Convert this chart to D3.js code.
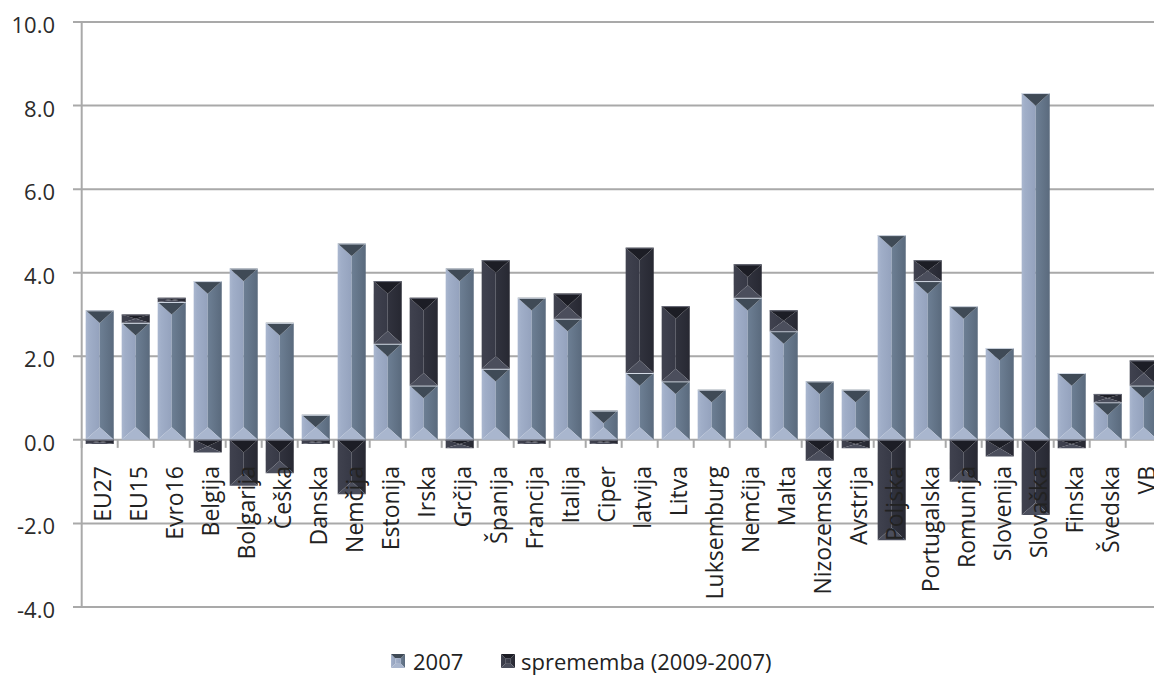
<!DOCTYPE html>
<html>
<head>
<meta charset="utf-8">
<script src="https://cdn.jsdelivr.net/npm/d3@7"></script>
<style>
  html, body { margin: 0; padding: 0; background: #fff; }
  svg { display: block; font-family: "Open Sans", "Noto Sans", sans-serif; }
</style>
</head>
<body>
<svg id="chart" width="1154" height="675"></svg>
<script>
// Countries / aggregates along the x axis
const categories = ["EU27", "EU15", "Evro16", "Belgija", "Bolgarija", "Češka", "Danska", "Nemčija",
  "Estonija", "Irska", "Grčija", "Španija", "Francija", "Italija", "Ciper", "latvija", "Litva",
  "Luksemburg", "Nemčija ", "Malta", "Nizozemska", "Avstrija", "Poljska", "Portugalska",
  "Romunija", "Slovenija", "Slovaška", "Finska", "Švedska", "VB"];

// Level in 2007
const values2007 = [3.1, 2.8, 3.3, 3.8, 4.1, 2.8, 0.6, 4.7, 2.3, 1.3, 4.1, 1.7, 3.4, 2.9, 0.7,
  1.6, 1.4, 1.2, 3.4, 2.6, 1.4, 1.2, 4.9, 3.8, 3.2, 2.2, 8.3, 1.6, 0.9, 1.3];

// Change 2009 - 2007
const valuesChange = [-0.1, 0.2, 0.1, -0.3, -1.1, -0.8, -0.1, -1.3, 1.5, 2.1, -0.2, 2.6, -0.1, 0.6,
  -0.1, 3.0, 1.8, 0.0, 0.8, 0.5, -0.5, -0.2, -2.4, 0.5, -1.0, -0.4, -1.8, -0.2, 0.2, 0.6];

const yTicks = [-4, -2, 0, 2, 4, 6, 8, 10];
const seriesNames = ["2007", "sprememba (2009-2007)"];

const svg = d3.select("#chart");
const plotLeft = 81.7, plotRight = 1161.7, plotTop = 22, plotBottom = 607;

const x = d3.scaleBand().domain(categories).range([plotLeft, plotRight])
  .paddingInner(0.22).paddingOuter(0.11);
const y = d3.scaleLinear().domain([-4, 10]).range([plotBottom, plotTop]);

// Gradients for the bevelled faces
const defs = svg.append("defs");
function grad(id, stops) {
  const g = defs.append("linearGradient").attr("id", id).attr("x1", 0).attr("x2", 1).attr("y1", 0).attr("y2", 0);
  stops.forEach(([o, c]) => g.append("stop").attr("offset", o).attr("stop-color", c));
}
grad("lightL", [[0, "#aab7cf"], [0.25, "#a0aec8"], [1, "#94a2bd"]]);
grad("lightR", [[0, "#6d7f94"], [1, "#5a6a7d"]]);
grad("darkL", [[0, "#40424f"], [1, "#373946"]]);
grad("darkR", [[0, "#31333e"], [1, "#272832"]]);

const palettes = {
  light: { top: "#3f4a56", left: "url(#lightL)", right: "url(#lightR)", bottom: "#a9b6ce", edge: "#d4dbe6" },
  dark:  { top: "#1c1d25", left: "url(#darkL)", right: "url(#darkR)", bottom: "#4b4e5c", edge: "#6a6d7a" }
};

// Gridlines and y axis
const grid = svg.append("g");
grid.selectAll("line.grid").data(yTicks).join("line")
  .attr("x1", 73).attr("x2", 1154)
  .attr("y1", d => y(d)).attr("y2", d => y(d))
  .attr("stroke", "#a9a9a9").attr("stroke-width", 2);
grid.append("line")
  .attr("x1", plotLeft).attr("x2", plotLeft).attr("y1", y(10)).attr("y2", y(-4))
  .attr("stroke", "#a9a9a9").attr("stroke-width", 2);

// Category tick marks along the zero line
const bounds = categories.map(c => x(c) - x.step() * x.paddingInner() / 2).concat([plotRight]);
grid.selectAll("line.xt").data(bounds).join("line")
  .attr("x1", d => d).attr("x2", d => d)
  .attr("y1", y(0)).attr("y2", y(0) + 8)
  .attr("stroke", "#a9a9a9").attr("stroke-width", 2);

// Y tick labels
svg.append("g").selectAll("text").data(yTicks).join("text")
  .attr("x", 55).attr("y", d => y(d) + 11)
  .attr("text-anchor", "end").attr("font-size", 22).attr("fill", "#2b2b2b")
  .text(d => d.toFixed(1));

// Bevelled bar segment
function bevelBar(g, x0, w, v0, v1, pal) {
  const yT = Math.min(y(v0), y(v1)), yB = Math.max(y(v0), y(v1));
  const h = yB - yT;
  if (h <= 0) return;
  const x1 = x0 + w, xc = x0 + w / 2;
  const d = Math.min(w * 0.45, h / 2);
  const poly = pts => pts.map(p => p.join(",")).join(" ");
  g.append("polygon").attr("points", poly([[x0, yT], [xc, yT + d], [xc, yB - d], [x0, yB]])).attr("fill", pal.left);
  g.append("polygon").attr("points", poly([[x1, yT], [xc, yT + d], [xc, yB - d], [x1, yB]])).attr("fill", pal.right);
  g.append("polygon").attr("points", poly([[x0, yB], [x1, yB], [xc, yB - d]])).attr("fill", pal.bottom);
  g.append("polygon").attr("points", poly([[x0, yT], [x1, yT], [xc, yT + d]])).attr("fill", pal.top);
  g.append("line").attr("x1", x0).attr("x2", x1).attr("y1", yT + 0.5).attr("y2", yT + 0.5)
    .attr("stroke", pal.edge).attr("stroke-width", 1);
}

const bars = svg.append("g");
categories.forEach((c, i) => {
  const g = bars.append("g");
  const x0 = x(c), w = x.bandwidth();
  const base = values2007[i], ch = valuesChange[i];
  bevelBar(g, x0, w, 0, base, palettes.light);
  if (ch > 0) bevelBar(g, x0, w, base, base + ch, palettes.dark);
  else if (ch < 0) bevelBar(g, x0, w, 0, ch, palettes.dark);
});

// Category labels, rotated
svg.append("g").selectAll("text").data(categories).join("text")
  .attr("transform", c => `translate(${x(c) + x.bandwidth() / 2 + 11},466) rotate(-90)`)
  .attr("text-anchor", "end").attr("font-size", 23).attr("fill", "#222")
  .text(c => c.trim());

// Legend
const legend = svg.append("g");
function swatch(gx, x0, y0, s, pal) {
  const poly = pts => pts.map(p => p.join(",")).join(" ");
  const x1 = x0 + s, y1 = y0 + s, d = s * 0.3;
  gx.append("polygon").attr("points", poly([[x0, y0], [x0 + d, y0 + d], [x0 + d, y1 - d], [x0, y1]])).attr("fill", pal.left);
  gx.append("polygon").attr("points", poly([[x1, y0], [x1 - d, y0 + d], [x1 - d, y1 - d], [x1, y1]])).attr("fill", pal.right);
  gx.append("polygon").attr("points", poly([[x0, y0], [x1, y0], [x1 - d, y0 + d], [x0 + d, y0 + d]])).attr("fill", pal.top);
  gx.append("polygon").attr("points", poly([[x0, y1], [x1, y1], [x1 - d, y1 - d], [x0 + d, y1 - d]])).attr("fill", pal.bottom);
  gx.append("rect").attr("x", x0 + d).attr("y", y0 + d).attr("width", s - 2 * d).attr("height", s - 2 * d).attr("fill", pal.left);
}
swatch(legend, 391, 654, 14, palettes.light);
legend.append("text").attr("x", 413).attr("y", 670).attr("font-size", 22).attr("fill", "#222").text(seriesNames[0]);
swatch(legend, 501, 654, 14, palettes.dark);
legend.append("text").attr("x", 521).attr("y", 670).attr("font-size", 22).attr("fill", "#222").text(seriesNames[1]);
</script>
</body>
</html>
